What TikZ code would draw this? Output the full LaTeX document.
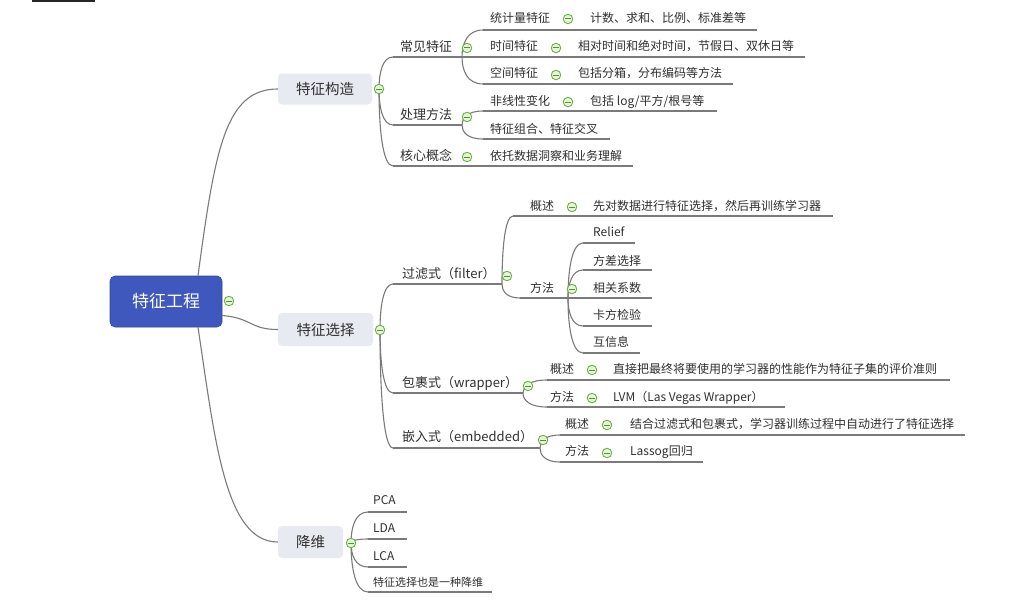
\documentclass[tikz,border=0pt]{standalone}
\usepackage{fontspec}
\setmainfont{Noto Sans CJK SC}
\usetikzlibrary{calc}
\definecolor{txt}{HTML}{303030}
\definecolor{linegray}{HTML}{7A7A7A}
\definecolor{boxgray}{HTML}{E8EAF1}
\definecolor{rootblue}{RGB}{62,88,190}
\definecolor{foldgreen}{HTML}{6DB344}
\definecolor{foldfill}{HTML}{E6F4DA}
\tikzset{
  lbl/.style={anchor=west, inner sep=0pt, text=txt, font=\fontsize{12}{14}\selectfont, text height=0.88em, text depth=0.12em},
  lbltwo/.style={lbl, font=\fontsize{13}{15}\selectfont},
  lblsmall/.style={lbl, font=\fontsize{11}{13}\selectfont},
  topicbox/.style={fill=boxgray, rounded corners=4pt, minimum height=31pt, inner sep=0pt, text=txt, font=\fontsize{14.5}{16}\selectfont},
  rootbox/.style={fill=rootblue, draw=rootblue!85!black, line width=0.6pt, rounded corners=5pt, minimum width=112pt, minimum height=51pt, inner sep=0pt, text=white, font=\fontsize{17}{19}\selectfont},
  uline/.style={draw=linegray, line width=1.1pt},
  connline/.style={draw=linegray, line width=1.1pt},
  foldmark/.style={circle, draw=foldgreen, fill=foldfill, minimum size=9.5pt, inner sep=0pt, line width=0.9pt,
    path picture={\draw[foldgreen!80!black, line width=1pt] ([xshift=-2.6pt]path picture bounding box.center) -- ([xshift=2.6pt]path picture bounding box.center);}}
}
\newcommand\linkc[2]{\draw[connline] (#1) .. controls ($(#1)!0.5!(#1|-#2)$) and ($(#1|-#2)!0.25!(#2)$) .. (#2);}
\begin{document}
\begin{tikzpicture}[x=1pt,y=-1pt]
\useasboundingbox (0,0) rectangle (1032,602);
\fill[white] (0,0) rectangle (1032,602);
\fill[black!85] (32,0) rectangle (95,1.6);

% ---------- root and topics
\node[rootbox] (root) at (166,301.5) {特征工程};
\node[topicbox, minimum width=94pt] (fc) at (325,89) {特征构造};
\node[topicbox, minimum width=95pt, minimum height=33pt] (fs) at (325.5,329.5) {特征选择};
\node[topicbox, minimum width=65pt, minimum height=32pt] (jw) at (310.5,542) {降维};

\draw[connline] ([xshift=32pt]root.north) .. controls (215,150) and (225,89) .. (fc.west);
\draw[connline] ([yshift=-14pt]root.east) .. controls (252,318) and (250,329.5) .. (fs.west);
\draw[connline] ([xshift=32pt]root.south) .. controls (215,440) and (225,542) .. (jw.west);

% ---------- 特征构造 subtree
\coordinate (fcJ) at (379,89);
\coordinate (cjS) at (393,57); \coordinate (cjE) at (462,57);
\coordinate (clS) at (393,125); \coordinate (clE) at (462,125);
\coordinate (hxS) at (393,166); \coordinate (hxE) at (633,166);
\node[lbltwo] (cj) at (400,48) {常见特征};
\node[lbltwo] (cl) at (400,116) {处理方法};
\node[lbltwo] (hx) at (400,157) {核心概念};
\node[lbl] (hxL) at (490,157) {依托数据洞察和业务理解};
\linkc{fcJ}{cjS} \linkc{fcJ}{clS} \linkc{fcJ}{hxS}
\draw[uline] (cjS) -- (cjE);
\draw[uline] (clS) -- (clE);
\draw[uline] (hxS) -- (hxE);

\coordinate (tjS) at (483,30); \coordinate (tjE) at (757,30);
\coordinate (sjS) at (483,57); \coordinate (sjE) at (805,57);
\coordinate (kjS) at (483,84); \coordinate (kjE) at (733,84);
\coordinate (fxS) at (483,111); \coordinate (fxE) at (717,111);
\coordinate (zhS) at (483,139); \coordinate (zhE) at (610,139);
\node[lbl] (tj) at (490,19) {统计量特征};
\node[lbl] (tjL) at (590,19) {计数、求和、比例、标准差等};
\node[lbl] (sj) at (490,47) {时间特征};
\node[lbl] (sjL) at (578,47) {相对时间和绝对时间，节假日、双休日等};
\node[lbl] (kj) at (490,74) {空间特征};
\node[lbl] (kjL) at (578,74) {包括分箱，分布编码等方法};
\node[lbl] (fx) at (490,102) {非线性变化};
\node[lbl] (fxL) at (590,102) {包括 log/平方/根号等};
\node[lbl] (zh) at (490,130) {特征组合、特征交叉};
\linkc{cjE}{tjS} \linkc{cjE}{sjS} \linkc{cjE}{kjS}
\linkc{clE}{fxS} \linkc{clE}{zhS}
\draw[uline] (tjS) -- (tjE);
\draw[uline] (sjS) -- (sjE);
\draw[uline] (kjS) -- (kjE);
\draw[uline] (fxS) -- (fxE);
\draw[uline] (zhS) -- (zhE);

% ---------- 特征选择 subtree
\coordinate (fsJ) at (380,330);
\coordinate (glS) at (393,284); \coordinate (glE) at (502,284);
\coordinate (bgS) at (393,393); \coordinate (bgE) at (523,393);
\coordinate (qrS) at (393,448); \coordinate (qrE) at (540,448);
\node[lbltwo] (gl) at (402,275) {过滤式（filter）};
\node[lbltwo] (bg) at (402,384) {包裹式（wrapper）};
\node[lbltwo] (qr) at (402,438) {嵌入式（embedded）};
\linkc{fsJ}{glS} \linkc{fsJ}{bgS} \linkc{fsJ}{qrS}
\draw[uline] (glS) -- (glE);
\draw[uline] (bgS) -- (bgE);
\draw[uline] (qrS) -- (qrE);

% filter
\coordinate (gaS) at (513,216); \coordinate (gaE) at (833,216);
\coordinate (gbS) at (520,298); \coordinate (gbE) at (568,298);
\node[lbl] (ga) at (530,207) {概述};
\node[lbl] (gaL) at (593,207) {先对数据进行特征选择，然后再训练学习器};
\node[lbl] (gb) at (530,289) {方法};
\linkc{glE}{gaS} \linkc{glE}{gbS}
\draw[uline] (gaS) -- (gaE);
\draw[uline] (gbS) -- (gbE);

\coordinate (m1S) at (583,243); \coordinate (m1E) at (635,243);
\coordinate (m2S) at (583,270); \coordinate (m2E) at (652,270);
\coordinate (m3S) at (583,298); \coordinate (m3E) at (652,298);
\coordinate (m4S) at (583,326); \coordinate (m4E) at (652,326);
\coordinate (m5S) at (583,353); \coordinate (m5E) at (640,353);
\node[lbl] (m1) at (593,233) {Relief};
\node[lbl] (m2) at (593,262) {方差选择};
\node[lbl] (m3) at (593,289) {相关系数};
\node[lbl] (m4) at (593,316) {卡方检验};
\node[lbl] (m5) at (593,343) {互信息};
\linkc{gbE}{m1S} \linkc{gbE}{m2S} \linkc{gbE}{m3S} \linkc{gbE}{m4S} \linkc{gbE}{m5S}
\draw[uline] (m1S) -- (m1E);
\draw[uline] (m2S) -- (m2E);
\draw[uline] (m3S) -- (m3E);
\draw[uline] (m4S) -- (m4E);
\draw[uline] (m5S) -- (m5E);

% wrapper
\coordinate (baS) at (547,380); \coordinate (baE) at (950,380);
\coordinate (bbS) at (547,407); \coordinate (bbE) at (785,407);
\node[lbl] (ba) at (550,370) {概述};
\node[lbl] (baL) at (613,370) {直接把最终将要使用的学习器的性能作为特征子集的评价准则};
\node[lbl] (bb) at (550,398) {方法};
\node[lbl] (bbL) at (613,398) {LVM（Las Vegas Wrapper）};
\linkc{bgE}{baS} \linkc{bgE}{bbS}
\draw[uline] (baS) -- (baE);
\draw[uline] (bbS) -- (bbE);

% embedded
\coordinate (qaS) at (560,435); \coordinate (qaE) at (965,435);
\coordinate (qbS) at (560,462); \coordinate (qbE) at (703,462);
\node[lbl] (qa) at (565,425) {概述};
\node[lbl] (qaL) at (630,425) {结合过滤式和包裹式，学习器训练过程中自动进行了特征选择};
\node[lbl] (qb) at (565,452) {方法};
\node[lbl] (qbL) at (630,452) {Lassog回归};
\linkc{qrE}{qaS} \linkc{qrE}{qbS}
\draw[uline] (qaS) -- (qaE);
\draw[uline] (qbS) -- (qbE);

% ---------- 降维 subtree
\coordinate (jwJ) at (351,543);
\coordinate (p1S) at (368,512); \coordinate (p1E) at (407,512);
\coordinate (p2S) at (368,539); \coordinate (p2E) at (407,539);
\coordinate (p3S) at (368,567); \coordinate (p3E) at (407,567);
\coordinate (p4S) at (368,592); \coordinate (p4E) at (492,592);
\node[lbl] (p1) at (373,501) {PCA};
\node[lbl] (p2) at (373,529) {LDA};
\node[lbl] (p3) at (373,557) {LCA};
\node[lblsmall] (p4) at (373,583) {特征选择也是一种降维};
\linkc{jwJ}{p1S} \linkc{jwJ}{p2S} \linkc{jwJ}{p3S} \linkc{jwJ}{p4S}
\draw[uline] (p1S) -- (p1E);
\draw[uline] (p2S) -- (p2E);
\draw[uline] (p3S) -- (p3E);
\draw[uline] (p4S) -- (p4E);

% ---------- fold markers
\node[foldmark] (rootF) at (229,301) {};
\node[foldmark] (fcF) at (fcJ) {};
\node[foldmark] (fsF) at (fsJ) {};
\node[foldmark] (jwF) at (jwJ) {};
\node[foldmark] (cjF) at (467,48) {};
\node[foldmark] (clF) at (467,117) {};
\node[foldmark] (hxF) at (467,157) {};
\node[foldmark] (tjF) at (568,19) {};
\node[foldmark] (sjF) at (556,48) {};
\node[foldmark] (kjF) at (556,75) {};
\node[foldmark] (fxF) at (568,102) {};
\node[foldmark] (glF) at (507,276) {};
\node[foldmark] (bgF) at (528,386) {};
\node[foldmark] (qrF) at (543,440) {};
\node[foldmark] (gaF) at (572,207) {};
\node[foldmark] (gbF) at (572,289) {};
\node[foldmark] (baF) at (592,370) {};
\node[foldmark] (bbF) at (592,398) {};
\node[foldmark] (qaF) at (607,425) {};
\node[foldmark] (qbF) at (607,453) {};
\end{tikzpicture}
\end{document}
